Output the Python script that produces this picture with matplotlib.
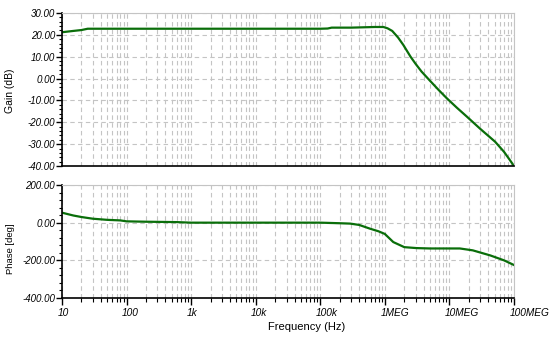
import numpy as np
import matplotlib
matplotlib.use("Agg")
import matplotlib.pyplot as plt
import matplotlib.transforms as mtransforms
from matplotlib.ticker import FixedLocator, FuncFormatter, MultipleLocator

plt.rcParams['font.family'] = ['Liberation Sans', 'DejaVu Sans']
plt.rcParams['axes.unicode_minus'] = False

# ---------- data ----------
gain_freq = [10, 15, 20, 25, 100, 1e3, 1e4, 1e5, 1.3e5, 1.5e5, 3e5, 7e5, 9.5e5,
             1.1e6, 1.3e6, 1.6e6, 1.93e6, 2.5e6, 3e6, 3.7e6, 5e6, 6.8e6, 9.1e6,
             1.3e7, 1.86e7, 3e7, 5.1e7, 7e7, 8.5e7, 1e8]
gain_db = [21.2, 21.8, 22.2, 22.8, 22.8, 22.8, 22.8, 22.8, 22.9, 23.3, 23.3, 23.6, 23.6,
           23.0, 21.8, 18.8, 15.4, 10.0, 6.7, 3.2, -1.0, -5.2, -9.0,
           -13.3, -17.4, -23.0, -28.9, -33.5, -37.0, -40.0]

phase_freq = [10, 15, 20, 30, 50, 80, 100, 200, 600, 1e3, 1e4, 1e5, 2e5, 2.9e5,
              4e5, 5.9e5, 8e5, 1e6, 1.35e6, 2e6, 3.1e6, 5e6, 1.45e7, 2.3e7,
              4.3e7, 7e7, 1e8]
phase_deg = [53, 38, 30, 21, 15, 12, 7, 5, 3, 0, 0, 0, -3, -5,
             -12, -32, -46, -60, -103, -130, -135, -137, -137, -147,
             -174, -200, -225]

freq_ticks = [10, 100, 1e3, 1e4, 1e5, 1e6, 1e7, 1e8]
freq_labels = ['10', '100', '1k', '10k', '100k', '1MEG', '10MEG', '100MEG']

line_color = '#0a6e0a'
grid_color = '#c4c4c4'

fig = plt.figure(figsize=(5.52, 3.44), dpi=100)
W, H = 552, 344
ax1 = fig.add_axes([62 / W, 1 - 166 / H, 452 / W, 153 / H])
ax2 = fig.add_axes([62 / W, 1 - 298 / H, 452 / W, 113 / H])

minor_x = [m * 10 ** e for e in range(1, 8) for m in range(2, 10)]

for ax in (ax1, ax2):
    ax.set_xscale('log')
    ax.set_xlim(10, 1e8)
    ax.xaxis.set_major_locator(FixedLocator(freq_ticks))
    ax.xaxis.set_minor_locator(FixedLocator(minor_x))
    ax.grid(True, which='both', axis='x', color=grid_color, linestyle=(0, (4, 3)), linewidth=0.8)
    ax.grid(True, which='major', axis='y', color=grid_color, linestyle=(0, (4, 3)), linewidth=0.8)
    for s in ('top', 'right'):
        ax.spines[s].set_color(grid_color)
    for s in ('left', 'bottom'):
        ax.spines[s].set_color('black')
        ax.spines[s].set_linewidth(1.2)
    ax.tick_params(axis='y', which='major', length=4, width=1, pad=1, labelsize=7)
    ax.tick_params(axis='y', which='minor', length=2.5, width=0.8)
    ax.yaxis.set_major_formatter(FuncFormatter(lambda v, p: f'{v:.2f}'))

# gain
ax1.plot(gain_freq, gain_db, color=line_color, linewidth=1.6)
ax1.set_ylim(-40, 30)
ax1.yaxis.set_major_locator(MultipleLocator(10))
ax1.yaxis.set_minor_locator(MultipleLocator(2))
ax1.tick_params(axis='x', which='both', length=0, labelbottom=False)
ax1.set_ylabel('Gain (dB)', fontsize=7.5)
ax1.yaxis.set_label_coords(-47 / 452, 0.49)

# phase
ax2.plot(phase_freq, phase_deg, color=line_color, linewidth=1.6)
ax2.set_ylim(-400, 200)
ax2.yaxis.set_major_locator(MultipleLocator(200))
ax2.yaxis.set_minor_locator(MultipleLocator(40))
ax2.xaxis.set_ticklabels(freq_labels, fontsize=7.3, style='italic', ha='left')
ax2.tick_params(axis='x', which='major', length=5, width=1, pad=2)
ax2.tick_params(axis='x', which='minor', length=3, width=0.8)
ax2.set_ylabel('Phase [deg]', fontsize=6.8)
ax2.yaxis.set_label_coords(-47 / 452, 0.44)
ax2.set_xlabel('Frequency (Hz)', fontsize=8)
ax2.xaxis.set_label_coords(0.541, -0.215)

shift = mtransforms.ScaledTranslation(-4.5 / 100, 0, fig.dpi_scale_trans)
for lab in ax2.get_xticklabels():
    lab.set_transform(lab.get_transform() + shift)

for ax in (ax1, ax2):
    for lab in ax.get_yticklabels():
        lab.set_style('italic')

fig.savefig('out.png', dpi=100)
